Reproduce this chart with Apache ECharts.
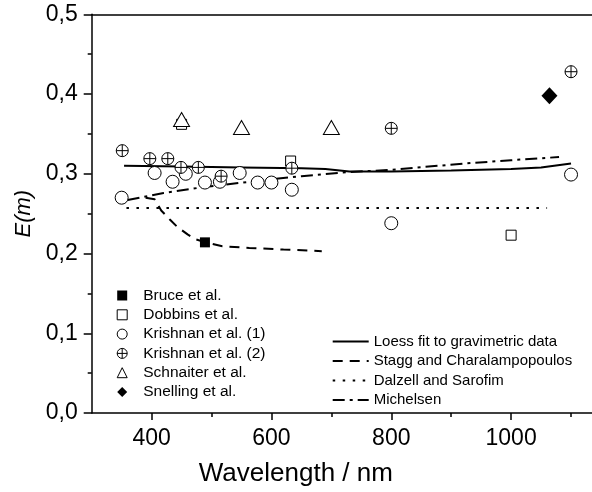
<!DOCTYPE html>
<html>
<head>
<meta charset="utf-8">
<script src="https://cdn.jsdelivr.net/npm/echarts@6/dist/echarts.min.js"></script>
<style>
  html, body { margin: 0; padding: 0; background: #fff; }
  #chart { width: 592px; height: 492px; }
</style>
</head>
<body>
<div id="chart"></div>
<script>
// Measured optical-property function E(m) versus wavelength (nm)
const bruce = [[489, 0.214]];
const dobbins = [[450, 0.362], [632, 0.316], [1000, 0.223]];
const krishnan1 = [[350, 0.270], [405, 0.301], [435, 0.290], [457, 0.300], [489, 0.289], [514, 0.290],
                   [547, 0.301], [577, 0.289], [600, 0.289], [634, 0.280], [800, 0.238], [1100, 0.299]];
const krishnan2 = [[351, 0.329], [397, 0.319], [427, 0.319], [449, 0.308], [478, 0.308], [516, 0.297],
                   [634, 0.307], [800, 0.357], [1100, 0.428]];
const schnaiter = [[450, 0.368], [550, 0.358], [700, 0.358]];
const snelling = [[1064, 0.398]];

// Model curves
const loess = [[354, 0.310], [450, 0.309], [550, 0.308], [650, 0.307], [690, 0.306], [730, 0.303],
               [800, 0.303], [900, 0.304], [1000, 0.306], [1050, 0.308], [1100, 0.313]];
const stagg = [[390, 0.270], [405, 0.268], [416, 0.254], [430, 0.243], [442, 0.234], [460, 0.224],
               [473, 0.218], [490, 0.214], [518, 0.209], [563, 0.207], [620, 0.205], [684, 0.203]];
const dalzell = [[358, 0.257], [1060, 0.257]];
const michelsen = [[360, 0.267], [420, 0.276], [484, 0.283], [586, 0.292], [650, 0.297], [727, 0.302],
                   [800, 0.305], [924, 0.313], [1000, 0.317], [1080, 0.321]];

// Axis ticks
const xLabelTicks = [400, 600, 800, 1000];
const xMinorTicks = [500, 700, 900, 1100];

const FONT = "'Liberation Sans', Arial, sans-serif";
const crossCircle = 'path://M0,-10 A10,10 0 1,1 0,10 A10,10 0 1,1 0,-10 Z M-10,0 L10,0 M0,-10 L0,10';
const hollow = { color: '#fff', borderColor: '#000', borderWidth: 1, opacity: 1 };
const solid = { color: '#000', opacity: 1 };

function scatter(name, data, symbol, size, style) {
  return { name, type: 'scatter', data, symbol, symbolSize: size, itemStyle: style, z: 3 };
}
function curve(name, data, dash) {
  return {
    name, type: 'line', data, symbol: 'none', smooth: false, z: 2,
    lineStyle: { color: '#000', width: 2, type: dash },
    // transparent item colour keeps the legend entry a plain line sample
    itemStyle: { color: 'rgba(0,0,0,0)', borderColor: 'rgba(0,0,0,0)' }
  };
}

const chart = echarts.init(document.getElementById('chart'), null, { renderer: 'canvas' });
chart.setOption({
  animation: false,
  backgroundColor: '#fff',
  grid: { left: 91.7, right: 0, top: 14.3, bottom: 77.7, containLabel: false },
  xAxis: [
    {
      type: 'value', min: 300, max: 1135, interval: 100, position: 'bottom',
      name: 'Wavelength / nm', nameLocation: 'middle', nameGap: 48,
      nameTextStyle: { fontFamily: FONT, fontSize: 26, color: '#000', padding: [0, 92, 0, 0] },
      axisLine: { show: true, lineStyle: { color: '#000', width: 1.5 } },
      axisTick: { show: true, length: 7, inside: false, customValues: xLabelTicks, lineStyle: { color: '#000', width: 1.5 } },
      axisLabel: { customValues: xLabelTicks, fontFamily: FONT, fontSize: 23, color: '#000', margin: 14,
                   formatter: v => String(v) },
      splitLine: { show: false }
    },
    {
      type: 'value', min: 300, max: 1135, interval: 100, position: 'bottom',
      axisLine: { show: false },
      axisTick: { show: true, length: 4, customValues: xMinorTicks, lineStyle: { color: '#000', width: 1.5 } },
      axisLabel: { show: false },
      splitLine: { show: false }
    },
    {
      type: 'value', min: 300, max: 1135, position: 'top',
      axisLine: { show: true, lineStyle: { color: '#000', width: 1.5 } },
      axisTick: { show: false }, axisLabel: { show: false }, splitLine: { show: false }
    }
  ],
  yAxis: {
    type: 'value', min: 0, max: 0.5, interval: 0.1,
    name: 'E(m)', nameLocation: 'middle', nameGap: 57,
    nameTextStyle: { fontFamily: FONT, fontSize: 22, fontStyle: 'italic', color: '#000' },
    axisLine: { show: true, lineStyle: { color: '#000', width: 1.5 } },
    axisTick: { show: true, length: 8, lineStyle: { color: '#000', width: 1.5 } },
    minorTick: { show: true, splitNumber: 2, length: 4, lineStyle: { color: '#000', width: 1.5 } },
    axisLabel: {
      fontFamily: FONT, fontSize: 23, color: '#000', margin: 14,
      formatter: v => v.toFixed(1).replace('.', ',')
    },
    splitLine: { show: false }
  },
  legend: [
    {
      orient: 'vertical', left: 111.7, top: 282.5, itemWidth: 10, itemHeight: 10, itemGap: 3.3,
      itemStyle: { borderWidth: 1 },
      textStyle: { fontFamily: FONT, fontSize: 15.5, color: '#000', lineHeight: 16, padding: [0, 0, 0, 11] },
      data: ['Bruce et al.', 'Dobbins et al.', 'Krishnan et al. (1)', 'Krishnan et al. (2)', 'Schnaiter et al.', 'Snelling et al.'],
      selectedMode: false
    },
    {
      orient: 'vertical', left: 326.7, top: 328.5, itemWidth: 36, itemHeight: 14, itemGap: 3.5,
      textStyle: { fontFamily: FONT, fontSize: 15, color: '#000', lineHeight: 16 },
      data: ['Loess fit to gravimetric data', 'Stagg and Charalampopoulos', 'Dalzell and Sarofim', 'Michelsen'],
      selectedMode: false
    }
  ],
  series: [
    curve('Loess fit to gravimetric data', loess, 'solid'),
    curve('Stagg and Charalampopoulos', stagg, [10, 7]),
    curve('Dalzell and Sarofim', dalzell, [2.5, 7.5]),
    curve('Michelsen', michelsen, [12, 5, 3, 5]),
    scatter('Bruce et al.', bruce, 'rect', 10, solid),
    scatter('Dobbins et al.', dobbins, 'rect', 10, hollow),
    scatter('Krishnan et al. (1)', krishnan1, 'circle', 13, hollow),
    scatter('Krishnan et al. (2)', krishnan2, crossCircle, 12, hollow),
    scatter('Schnaiter et al.', schnaiter, 'triangle', [16, 14], hollow),
    scatter('Snelling et al.', snelling, 'diamond', [16, 17], solid)
  ]
});
</script>
</body>
</html>
